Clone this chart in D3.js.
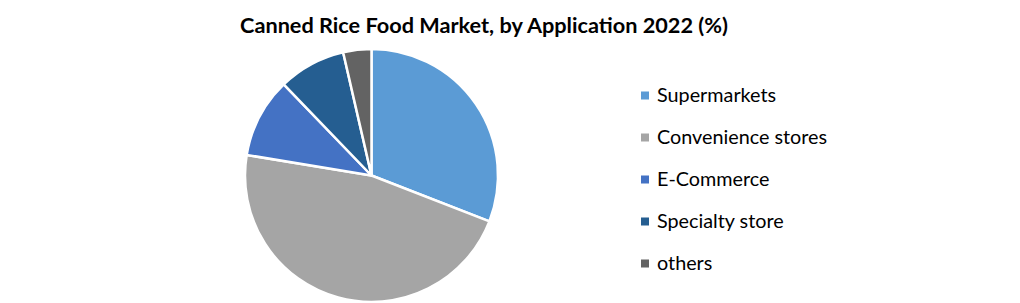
<!DOCTYPE html>
<html>
<head>
<meta charset="utf-8">
<script src="https://cdn.jsdelivr.net/npm/d3@7"></script>
<style>
  body { margin: 0; background: #fff; }
  svg { display: block; }
</style>
</head>
<body>
<svg id="chart" width="1020" height="303"></svg>
<script>
const categories = ["Supermarkets", "Convenience stores", "E-Commerce", "Specialty store", "others"];
const shares = [30.9, 46.7, 10.2, 8.6, 3.6];
const colors = ["#5B9BD5", "#A5A5A5", "#4472C4", "#255E91", "#636363"];
const title = "Canned Rice Food Market, by Application 2022 (%)";

const data = categories.map((name, i) => ({ name, value: shares[i] }));

const svg = d3.select("#chart");
const font = "Lato, 'Open Sans', sans-serif";

svg.append("text")
  .attr("x", 484)
  .attr("y", 33)
  .attr("text-anchor", "middle")
  .style("font-family", font)
  .style("font-weight", "bold")
  .style("font-size", "21.7px")
  .attr("fill", "#000")
  .text(title);

const color = d3.scaleOrdinal().domain(categories).range(colors);

const cx = 371.5, cy = 175.5, radius = 126.5;
const pie = d3.pie().sort(null).value(d => d.value);
const arc = d3.arc().innerRadius(0).outerRadius(radius);

const g = svg.append("g").attr("transform", `translate(${cx},${cy})`);
g.selectAll("path")
  .data(pie(data))
  .enter().append("path")
  .attr("d", arc)
  .attr("fill", d => color(d.data.name))
  .attr("stroke", "#fff")
  .attr("stroke-width", 2.5)
  .attr("stroke-linejoin", "round");

// legend
const legendY = d3.scalePoint().domain(categories).range([95.5, 263.5]);
const legend = svg.append("g");
const item = legend.selectAll("g")
  .data(categories)
  .enter().append("g")
  .attr("transform", d => `translate(641,${legendY(d)})`);

item.append("rect")
  .attr("x", 0).attr("y", -4)
  .attr("width", 8).attr("height", 8)
  .attr("fill", d => color(d));

item.append("text")
  .attr("x", 16)
  .attr("y", 0)
  .attr("dy", "0.35em")
  .style("font-family", font)
  .style("font-size", "19.8px")
  .attr("fill", "#000")
  .text(d => d);
</script>
</body>
</html>
